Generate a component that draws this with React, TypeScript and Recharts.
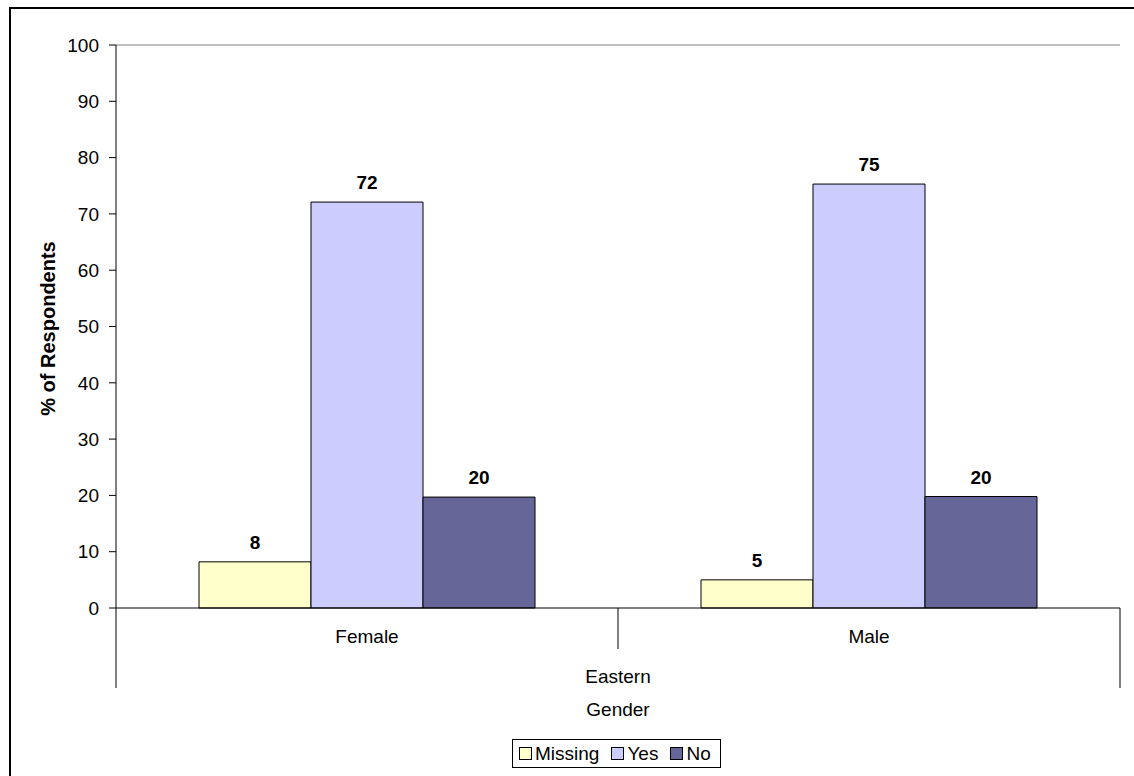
import { BarChart, Bar, XAxis, YAxis, Legend, ReferenceLine, LabelList } from "recharts";

const CATEGORIES = ["Female", "Male"];
const REGION = "Eastern";
const MISSING = [8.2, 5.0];
const YES = [72.1, 75.3];
const NO = [19.7, 19.8];
const Y_TICKS = [0, 10, 20, 30, 40, 50, 60, 70, 80, 90, 100];
const SERIES = [
  { key: "missing", name: "Missing", color: "#FFFFCC" },
  { key: "yes", name: "Yes", color: "#CCCCFF" },
  { key: "no", name: "No", color: "#666699" },
];

const W = 1134;
const H = 776;
const MARGIN = { top: 45, right: 14, left: 0, bottom: 0 };
const Y_W = 116;
const X_H = 168;
const FONT = "'Liberation Sans', Arial, sans-serif";
const HALF_BAND = (W - MARGIN.left - MARGIN.right - Y_W) / CATEGORIES.length / 2;

const data = CATEGORIES.map((g, i) => ({
  gender: g,
  missing: MISSING[i],
  yes: YES[i],
  no: NO[i],
}));

// category label plus Excel-style divider lines between groups
function GenderTick(props: any) {
  const { x, y, payload, index, visibleTicksCount } = props;
  const last = index === visibleTicksCount - 1;
  return (
    <g>
      <line x1={x - HALF_BAND} y1={y} x2={x - HALF_BAND} y2={y + (index === 0 ? 80 : 41)} stroke="#000" />
      {last && <line x1={x + HALF_BAND} y1={y} x2={x + HALF_BAND} y2={y + 80} stroke="#000" />}
      <text x={x} y={y + 35} textAnchor="middle" fontSize={19} fill="#000">
        {payload.value}
      </text>
    </g>
  );
}

function XTitles(props: any) {
  const { viewBox } = props;
  const cx = viewBox.x + viewBox.width / 2;
  return (
    <g>
      <text x={cx} y={viewBox.y + 75} textAnchor="middle" fontSize={19} fill="#000">
        {REGION}
      </text>
      <text x={cx} y={viewBox.y + 108} textAnchor="middle" fontSize={19} fill="#000">
        Gender
      </text>
    </g>
  );
}

function YTitle(props: any) {
  const { viewBox } = props;
  const cx = 48;
  const cy = viewBox.y + viewBox.height / 2 + 2;
  return (
    <text
      x={cx}
      y={cy}
      transform={`rotate(-90 ${cx} ${cy})`}
      textAnchor="middle"
      dominantBaseline="central"
      fontSize={20}
      fontWeight="bold"
      fill="#000"
    >
      % of Respondents
    </text>
  );
}

function LegendBox() {
  return (
    <div
      style={{
        display: "flex",
        alignItems: "center",
        border: "1px solid #000",
        background: "#fff",
        padding: "3px 9px 3px 6px",
        fontFamily: FONT,
        fontSize: 19,
        lineHeight: "21px",
        color: "#000",
        whiteSpace: "nowrap",
      }}
    >
      {SERIES.map((s, i) => (
        <span key={s.key} style={{ display: "flex", alignItems: "center", marginLeft: i === 0 ? 0 : 12 }}>
          <span
            style={{
              display: "inline-block",
              width: 11,
              height: 11,
              border: "1px solid #000",
              background: s.color,
              marginRight: 3,
            }}
          />
          {s.name}
        </span>
      ))}
    </div>
  );
}

export default function App() {
  return (
    <div style={{ position: "absolute", left: 0, top: 0, width: W, height: H, overflow: "hidden", background: "#fff" }}>
      <div
        style={{
          position: "absolute",
          left: 9,
          top: 7,
          width: W + 50,
          height: H + 50,
          border: "2px solid #000",
        }}
      />
      <div style={{ position: "absolute", left: 0, top: 0, fontFamily: FONT }}>
        <BarChart
          width={W}
          height={H}
          data={data}
          margin={MARGIN}
          barCategoryGap={83}
          barGap={0}
          style={{ fontFamily: FONT }}
        >
          <ReferenceLine y={100} stroke="#808080" ifOverflow="visible" />
          <XAxis
            dataKey="gender"
            height={X_H}
            axisLine={{ stroke: "#000" }}
            tickLine={false}
            tickSize={0}
            tickMargin={0}
            tick={<GenderTick />}
            interval={0}
            label={<XTitles />}
          />
          <YAxis
            width={Y_W}
            domain={[0, 100]}
            ticks={Y_TICKS}
            interval={0}
            tickSize={7}
            tickMargin={10}
            axisLine={{ stroke: "#000" }}
            tickLine={{ stroke: "#000" }}
            tick={{ fontSize: 19, fill: "#000" }}
            label={<YTitle />}
          />
          <YAxis
            yAxisId="right"
            orientation="right"
            width={0}
            domain={[0, 100]}
            tick={false}
            tickLine={false}
            axisLine={{ stroke: "#808080" }}
          />
          <Legend
            layout="horizontal"
            align="center"
            verticalAlign="middle"
            wrapperStyle={{ left: 512, top: 739, width: "auto", height: "auto" }}
            content={<LegendBox />}
          />
          {SERIES.map((s) => (
            <Bar
              key={s.key}
              dataKey={s.key}
              name={s.name}
              fill={s.color}
              stroke="#000"
              strokeWidth={1}
              isAnimationActive={false}
            >
              <LabelList
                dataKey={s.key}
                position="top"
                offset={13}
                formatter={(v: any) => Math.round(Number(v))}
                style={{ fontSize: 19, fontWeight: "bold", fill: "#000" }}
              />
            </Bar>
          ))}
        </BarChart>
      </div>
    </div>
  );
}
